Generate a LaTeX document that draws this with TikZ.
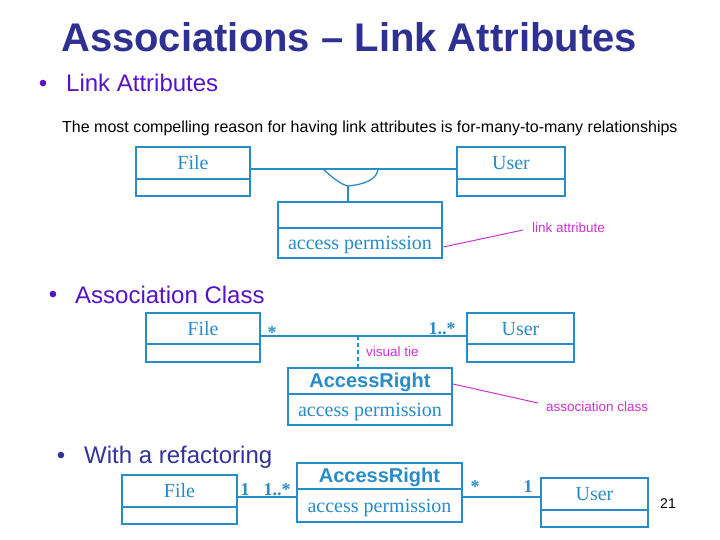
\documentclass[tikz,border=0pt]{standalone}
\usepackage{fontspec}
\setmainfont{Liberation Serif}
\newfontfamily\arial{Liberation Sans}
\usetikzlibrary{calc}
\newcommand\myfs[1]{\fontsize{#1bp}{#1bp}\selectfont}
\definecolor{boxblue}{RGB}{40,140,200}
\definecolor{titleblue}{RGB}{46,49,146}
\definecolor{violettext}{RGB}{85,20,200}
\definecolor{navytext}{RGB}{51,51,153}
\definecolor{notemag}{RGB}{204,51,204}
\begin{document}
\begin{tikzpicture}[x=1bp,y=-1bp,
  compart/.style={draw=boxblue, rectangle, inner sep=0pt, text=boxblue, font=\myfs{20}, text height=13bp, text depth=0bp},
  thickbox/.style={compart, line width=2.6bp},
  midbox/.style={compart, line width=1.8bp},
  thinbox/.style={compart, line width=1.2bp},
  assoc/.style={draw=boxblue, line width=1.3bp},
  note/.style={draw=notemag, line width=1bp},
  notetext/.style={text=notemag, font=\arial\myfs{13.5}, inner sep=0pt, anchor=west},
  mult/.style={text=boxblue, font=\bfseries\myfs{18}, inner sep=0pt, anchor=base},
  bullettext/.style={font=\arial\myfs{24}, inner sep=0pt, anchor=base west},
  bulletdot/.style={font=\arial\myfs{24}, inner sep=0pt, anchor=base},
  arfont/.style={font=\arial\bfseries\myfs{20}}
]
\fill[white] (0,0) rectangle (720,540);
\useasboundingbox (0,0) rectangle (720,540);

% title and texts
\node[font=\arial\bfseries\myfs{40}, text=titleblue, anchor=base, inner sep=0pt] (title) at (349,52) {Associations – Link Attributes};
\node[bulletdot, text=violettext] (d1) at (43,92) {•};
\node[bullettext, text=violettext] (b1) at (66,92) {Link Attributes};
\node[font=\arial\myfs{16}, anchor=base west, inner sep=0pt] (desc) at (62,133) {The most compelling reason for having link attributes is for-many-to-many relationships};

% ---------- section 1 ----------
\node[thinbox, minimum width=114bp, minimum height=17bp] (file1b) at (193,187.5) {};
\node[thickbox, minimum width=114bp, minimum height=32bp] (file1) at (193,163) {File};
\node[thinbox, minimum width=108bp, minimum height=17bp] (user1b) at (511,187.5) {};
\node[thickbox, minimum width=108bp, minimum height=32bp] (user1) at (511,163) {User};
\node[thinbox, minimum width=164bp, minimum height=26bp] (attr1t) at (360,215) {};
\node[thickbox, minimum width=164bp, minimum height=30bp] (attr1b) at (360,243) {access permission};

\coordinate (j1L) at (323,169);
\coordinate (j1B) at (348,186);
\coordinate (j1R) at (378,169);
\draw[assoc] (file1.east |- j1L) -- (user1.west |- j1L);
\draw[assoc] (j1L) .. controls (333,178) and (340,184) .. (j1B) .. controls (368,184) and (377,178) .. (j1R);
\draw[assoc] (j1B) -- (j1B |- attr1t.north);

\coordinate (n1) at (523,230);
\draw[note] ($(attr1b.east)+(0,4)$) -- (n1);
\node[notetext] (lbl1) at (532,228) {link attribute};

% ---------- section 2 ----------
\node[bulletdot, text=violettext] (d2) at (53,302) {•};
\node[bullettext, text=violettext] (b2) at (75,303) {Association Class};

\node[thinbox, minimum width=114bp, minimum height=18bp] (file2b) at (203,353) {};
\node[thickbox, minimum width=114bp, minimum height=31bp] (file2) at (203,328.5) {File};
\node[thinbox, minimum width=107bp, minimum height=18bp] (user2b) at (520.5,353) {};
\node[thickbox, minimum width=107bp, minimum height=31bp] (user2) at (520.5,328.5) {User};

\coordinate (j2) at (358,336);
\draw[assoc] (file2.east |- j2) -- (user2.west |- j2);
\node[mult] (m2a) at (272,338) {*};
\node[mult] (m2b) at (442,334) {1..*};

\node[midbox, arfont, minimum width=164bp, minimum height=26bp] (ar2t) at (370,381) {AccessRight};
\node[thickbox, minimum width=164bp, minimum height=31bp] (ar2b) at (370,409.5) {access permission};
\draw[assoc, dash pattern=on 4bp off 3bp] (j2) -- (j2 |- ar2t.north);
\node[notetext] (tie) at (366,352) {visual tie};

\coordinate (n2) at (538,403);
\draw[note] ($(ar2t.east)+(0,3)$) -- (n2);
\node[notetext] (lbl2) at (546,407) {association class};

% ---------- section 3 ----------
\node[bulletdot, text=navytext] (d3) at (61,463) {•};
\node[bullettext, text=navytext] (b3) at (84,463) {With a refactoring};

\node[thinbox, minimum width=115bp, minimum height=17bp] (file3b) at (179.5,515.5) {};
\node[thickbox, minimum width=115bp, minimum height=32bp] (file3) at (179.5,491) {File};
\node[thinbox, arfont, minimum width=165bp, minimum height=26bp] (ar3t) at (379.5,476) {AccessRight};
\node[thickbox, minimum width=165bp, minimum height=33bp] (ar3b) at (379.5,505.5) {access permission};
\node[thinbox, minimum width=107bp, minimum height=17bp] (user3b) at (594.5,518.5) {};
\node[thickbox, minimum width=107bp, minimum height=32bp] (user3) at (594.5,494) {User};

\coordinate (j3) at (0,497);
\draw[assoc] (file3.east |- j3) -- (ar3b.west |- j3);
\draw[assoc] (ar3b.east |- j3) -- (user3.west |- j3);
\node[mult] (m3a) at (245,495) {1};
\node[mult] (m3b) at (277,495) {1..*};
\node[mult] (m3c) at (475,492) {*};
\node[mult] (m3d) at (528,492) {1};

\node[font=\arial\myfs{14}, inner sep=0pt] (pg) at (668,504) {21};
\end{tikzpicture}
\end{document}
